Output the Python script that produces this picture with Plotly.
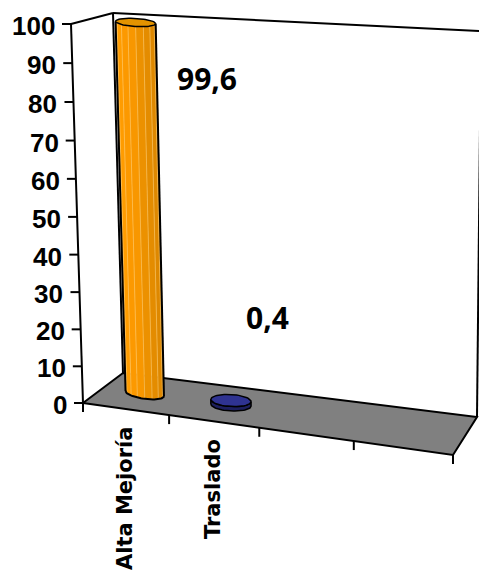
import numpy as np
import plotly.graph_objects as go

# ---- data ----
categories = ["Alta Mejoría", "Traslado"]
values = [99.6, 0.4]
value_labels = ["99,6", "0,4"]
value_ticks = [0, 10, 20, 30, 40, 50, 60, 70, 80, 90, 100]
tick_labels = [str(t) for t in value_ticks]
n_slots = 4          # category slots along the floor
v_max = 100

# ---- 3D box projection (screen frame of the figure) ----
W, H = 479, 578
CORNERS = {
    (0, 0, 0): (83, 403), (1, 0, 0): (453, 455),
    (0, 1, 0): (123, 373), (1, 1, 0): (477, 417),
    (0, 0, 1): (71, 24), (1, 0, 1): (459, 48),
    (0, 1, 1): (113, 13), (1, 1, 1): (481, 31),
}
PERSP_U = -0.09
PERSP_V = -0.035


def warp(s, b):
    return (1 + b) * s / (1 + b * s)


def proj(cat, depth, value):
    u = warp(cat / n_slots, PERSP_U)
    v = warp(value / v_max, PERSP_V)
    w = depth
    x = y = 0.0
    for (i, j, k), (px, py) in CORNERS.items():
        wt = (u if i else 1 - u) * (w if j else 1 - w) * (v if k else 1 - v)
        x += wt * px
        y += wt * py
    return np.array([x, y])


BAR_HALF = 0.228      # half width of a cylinder, in category units
BAR_DEPTH = 0.5
LINE = "black"
traces = []


def poly(pts, fill, line_color=LINE, width=2, closed=True):
    pts = np.asarray(pts)
    xs, ys = list(pts[:, 0]), list(pts[:, 1])
    if closed:
        xs.append(xs[0]); ys.append(ys[0])
    traces.append(go.Scatter(
        x=xs, y=ys, mode="lines", fill="toself" if fill else None,
        fillcolor=fill, line=dict(color=line_color, width=width),
        hoverinfo="skip", showlegend=False))


def seg(a, b, color=LINE, width=2, opacity=1.0):
    traces.append(go.Scatter(
        x=[a[0], b[0]], y=[a[1], b[1]], mode="lines",
        line=dict(color=color, width=width), opacity=opacity,
        hoverinfo="skip", showlegend=False))


def ellipse_frame(cat, value, tilt=1.0, flat=0.2):
    left = proj(cat - BAR_HALF, BAR_DEPTH, value)
    right = proj(cat + BAR_HALF, BAR_DEPTH, value)
    c = (left + right) / 2
    half = right - c
    half = np.array([half[0], half[1] * tilt])
    ry = abs(half[0]) * (flat + 0.08 * (1 - value / v_max))
    return c, half, ry


def ell_pts(frame, thetas):
    c, half, ry = frame
    return np.array([c + np.cos(t) * half + np.array([0, ry * np.sin(t)]) for t in thetas])


# ---- floor and walls ----
P = {k: proj(k[0] * n_slots, k[1], k[2] * v_max) for k in CORNERS}
poly([P[(0, 0, 0)], P[(1, 0, 0)], P[(1, 1, 0)], P[(0, 1, 0)]], "#808080")
seg(P[(0, 0, 1)], P[(0, 1, 1)])
seg(P[(0, 1, 1)], P[(0, 1, 0)])
seg(P[(0, 1, 1)], P[(1, 1, 1)])
seg(P[(1, 1, 1)], P[(1, 1, 0)])
seg(P[(0, 0, 0)], P[(0, 0, 1)])

# value-axis ticks
for t in value_ticks:
    a = proj(0, 0, t)
    seg(a, a + np.array([-9, 0]))
# category ticks on the front edge of the floor
for s in range(n_slots + 1):
    a = proj(s, 0, 0)
    seg(a, a + np.array([0, 9]))

# ---- data marks ----
ORANGE_FACETS = ["#FF9F0A", "#FF9C00", "#FC9900", "#F89700",
                 "#EC9100", "#E48C00", "#DE8800", "#D68300"]
NAVY_TOP, NAVY_SIDE = "#2F3391", "#1D1F5E"
DISC_RISE = 3.0       # visual thickness of a near-zero cylinder

for i, (cat, val) in enumerate(zip(categories, values)):
    cc = i + 0.5
    tall = val > 5
    if tall:
        fb = ellipse_frame(cc, 0)
        ft = ellipse_frame(cc, val)
        nf = len(ORANGE_FACETS)
        th = np.linspace(np.pi, 0, nf + 1)
        bpts = ell_pts(fb, th)
        tpts = ell_pts(ft, th)
        for k in range(nf):
            poly([bpts[k], bpts[k + 1], tpts[k + 1], tpts[k]], ORANGE_FACETS[k],
                 line_color=ORANGE_FACETS[k], width=0.5)
        for k in range(1, nf):
            seg(bpts[k], tpts[k], color="#FFD27A", width=1, opacity=0.55)
        arc = ell_pts(fb, np.linspace(np.pi, 0, 40))
        seg(tpts[0], bpts[0], width=2)
        seg(tpts[-1], bpts[-1], width=2)
        poly(arc, None, closed=False)
        cap = ell_pts(ft, np.linspace(0, 2 * np.pi, 60))
        poly(cap, "#E39300", width=1.5)
    else:
        fb = ellipse_frame(cc, 0, tilt=0.4, flat=0.22)
        ft = ellipse_frame(cc, val, tilt=0.4, flat=0.22)
        ft = (ft[0] + np.array([0, -DISC_RISE]), ft[1], ft[2])
        low = ell_pts(fb, np.linspace(np.pi, 0, 40))
        top_side = ell_pts(ft, np.linspace(0, np.pi, 40))
        poly(np.vstack([low, top_side]), NAVY_SIDE, width=1.5)
        cap = ell_pts(ft, np.linspace(0, 2 * np.pi, 60))
        poly(cap, NAVY_TOP, width=1.5)

fig = go.Figure(traces)

# ---- text ----
ann = []
for t, lab in zip(value_ticks, tick_labels):
    a = proj(0, 0, t)
    ann.append(dict(x=a[0] - 14, y=a[1] + 2, text="<b>%s</b>" % lab, xanchor="right", yanchor="middle",
                    showarrow=False, font=dict(family="Liberation Sans", size=26, color="black"),
                    xref="x", yref="y"))
for i, cat in enumerate(categories):
    a = proj(i + 0.5, 0, 0)
    ann.append(dict(x=a[0], y=a[1] + 16, text="<b>%s</b>" % cat, textangle=-90,
                    xanchor="center", yanchor="top",
                    showarrow=False, font=dict(family="DejaVu Sans", size=21, color="black"),
                    xref="x", yref="y"))
LABEL_OFFSETS = [(71, 56), (37, -86)]
for i, (val, lab) in enumerate(zip(values, value_labels)):
    a = proj(i + 0.5, BAR_DEPTH, val)
    dx, dy = LABEL_OFFSETS[i]
    ann.append(dict(x=a[0] + dx, y=a[1] + dy, text="<b>%s</b>" % lab, xanchor="center", yanchor="middle",
                    showarrow=False, font=dict(family="Open Sans", size=30, color="black"),
                    xref="x", yref="y"))

fig.update_layout(
    width=W, height=H, margin=dict(l=0, r=0, t=0, b=0),
    paper_bgcolor="white", plot_bgcolor="white",
    xaxis=dict(range=[0, W], visible=False, fixedrange=True),
    yaxis=dict(range=[H, 0], visible=False, fixedrange=True),
    annotations=ann, showlegend=False,
    font=dict(family="Liberation Sans"),
)

fig.write_html("out.html")
